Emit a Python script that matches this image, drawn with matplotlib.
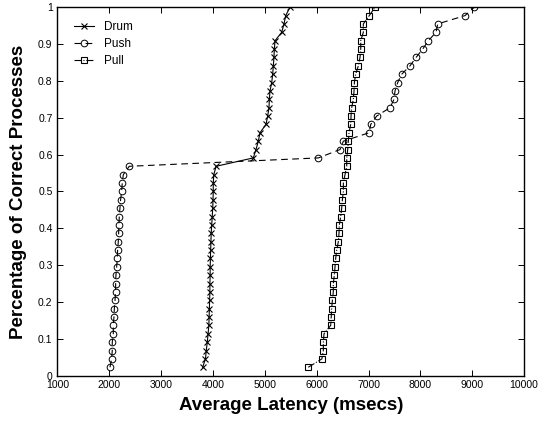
import numpy as np
import matplotlib
matplotlib.use('Agg')
import matplotlib.pyplot as plt

plt.rcParams['font.family'] = ['Liberation Sans', 'DejaVu Sans']

# fraction of correct processes (44 processes)
n_proc = 44
frac = np.arange(1, n_proc + 1) / n_proc

# average latency per process (msecs), sorted
drum = [3800, 3855, 3870, 3890, 3905, 3920, 3925, 3930, 3935, 3940, 3940,
        3945, 3945, 3950, 3955, 3960, 3965, 3975, 3985, 3995, 4000, 4005,
        4005, 4015, 4060,
        4777, 4829, 4874, 4906, 5022, 5054, 5080, 5086, 5099, 5132, 5151,
        5163, 5176, 5183, 5196, 5325, 5369, 5402, 5485]
push = [2013, 2045, 2057, 2057, 2077, 2077, 2090, 2097, 2110, 2122, 2122,
        2128, 2142, 2154, 2160, 2173, 2180, 2186, 2192, 2205, 2218, 2238,
        2250, 2270, 2385,
        6031, 6450, 6514, 7009, 7042, 7157, 7414, 7491, 7510, 7562, 7640,
        7800, 7916, 8045, 8153, 8301, 8334, 8861, 9040]
pull = [5838, 6100, 6128, 6128, 6141, 6270, 6280, 6289, 6302, 6320, 6320,
        6340, 6353, 6366, 6386, 6417, 6430, 6436, 6463, 6482, 6495, 6514,
        6514, 6546, 6579, 6579, 6598, 6610, 6623, 6656, 6662, 6675, 6706,
        6720, 6726, 6752, 6803, 6835, 6849, 6849, 6899, 6899, 7015, 7125]

fig = plt.figure(figsize=(5.42, 4.23), dpi=100)
ax = fig.add_axes([0.106, 0.112, 0.861, 0.871])

ax.plot(drum, frac, '-', color='black', marker='x', ms=3.8, mew=0.8, lw=0.8, label='Drum')
ax.plot(push, frac, '--', color='black', marker='o', ms=4.8, mfc='none', mew=0.7, lw=0.8,
        dashes=(6, 4), label='Push')
ax.plot(pull, frac, '-.', color='black', marker='s', ms=4.3, mfc='none', mew=0.8, lw=0.8,
        label='Pull')

ax.set_xlim(1000, 10000)
ax.set_ylim(0, 1)
ax.set_xticks(np.arange(1000, 10001, 1000))
ax.set_yticks(np.arange(0, 1.01, 0.1))
ax.set_yticklabels(['0', '0.1', '0.2', '0.3', '0.4', '0.5', '0.6', '0.7', '0.8', '0.9', '1'])
ax.tick_params(direction='in', top=True, right=True, labelsize=7.5, length=4, width=0.7)
for s in ax.spines.values():
    s.set_linewidth(1.0)

ax.set_xlabel('Average Latency (msecs)', fontsize=13.5, fontweight='bold', labelpad=5)
ax.set_ylabel('Percentage of Correct Processes', fontsize=13.5, fontweight='bold', labelpad=8)

ax.legend(loc='upper left', bbox_to_anchor=(0.011, 0.995), frameon=False, fontsize=8.5,
          handlelength=1.7, handletextpad=0.8, labelspacing=0.45, borderaxespad=0.6)

fig.savefig('out.png', dpi=100)
